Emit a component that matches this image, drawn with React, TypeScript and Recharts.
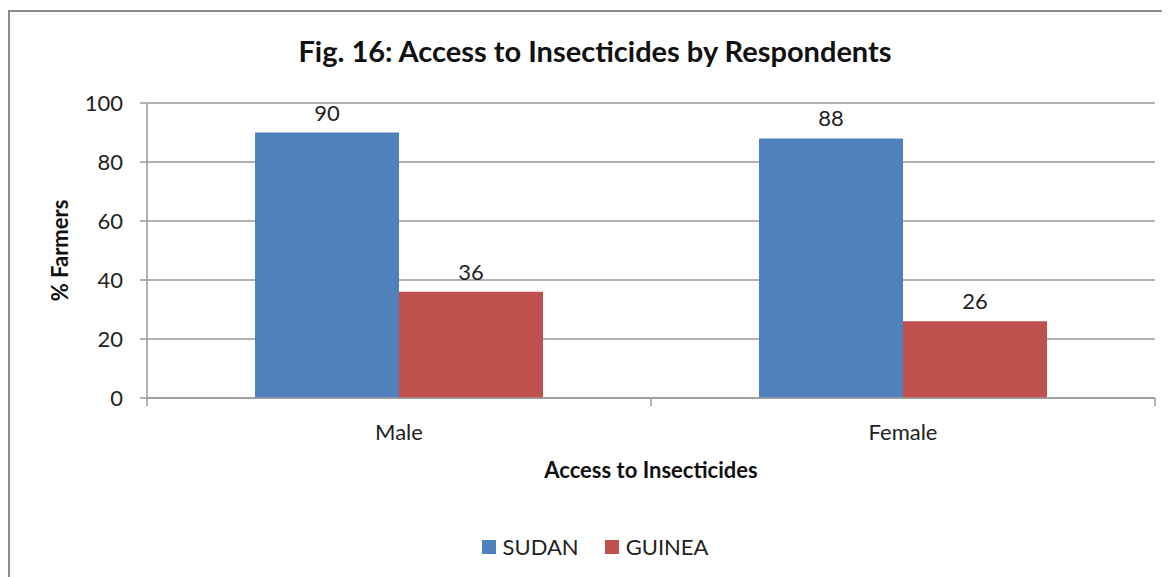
import { BarChart, Bar, XAxis, YAxis, CartesianGrid, LabelList } from 'recharts';

const categories = ['Male', 'Female'];
const sudan = [90, 88];
const guinea = [36, 26];
const yTicks = [0, 20, 40, 60, 80, 100];
const seriesNames = ['SUDAN', 'GUINEA'];
const seriesColors = ['#4F81BD', '#C0504D'];

const data = categories.map((name, i) => ({ name, SUDAN: sudan[i], GUINEA: guinea[i] }));

const FONT = 'Lato, "Open Sans", sans-serif';
const GRID = '#9a9a9a';
const TICK_SIZE = 6;
const TICK_MARGIN = 20;

// category label plus the little boundary ticks Excel draws between categories
function CategoryTick(props: any) {
    const { x, y, payload, index } = props;
    const half = 252;
    const axisY = y - TICK_SIZE - TICK_MARGIN;
    return (
        <g>
            <line x1={x - half} x2={x - half} y1={axisY} y2={axisY + 8} stroke={GRID} strokeWidth={1.5} />
            {index === categories.length - 1 && (
                <line x1={x + half} x2={x + half} y1={axisY} y2={axisY + 8} stroke={GRID} strokeWidth={1.5} />
            )}
            <text x={x} y={y} dy={16} textAnchor="middle" fontSize={22} fill="#222" fontFamily={FONT}>
                {payload.value}
            </text>
        </g>
    );
}

export default function App() {
    return (
        <div
            style={{
                position: 'relative',
                width: 1170,
                height: 577,
                marginTop: 2,
                border: '2px solid #8c8c8c',
                fontFamily: FONT,
                background: '#fff',
            }}
        >
            <div
                style={{
                    position: 'absolute',
                    top: 21,
                    left: 0,
                    width: 1170,
                    paddingRight: 14,
                    textAlign: 'center',
                    fontSize: 29,
                    fontWeight: 700,
                    color: '#111',
                }}
            >
                Fig. 16: Access to Insecticides by Respondents
            </div>
            <BarChart
                width={1160}
                height={565}
                data={data}
                margin={{ top: 91, right: 15, left: 60, bottom: 99 }}
                barGap={0}
            >
                <CartesianGrid vertical={false} stroke={GRID} strokeWidth={1.5} />
                <XAxis
                    dataKey="name"
                    height={80}
                    axisLine={{ stroke: GRID, strokeWidth: 1.5 }}
                    tickLine={false}
                    tickSize={TICK_SIZE}
                    tickMargin={TICK_MARGIN}
                    tick={<CategoryTick />}
                    label={{
                        value: 'Access to Insecticides',
                        position: 'insideBottom',
                        offset: 0,
                        style: { fontSize: 22, fontWeight: 700, fill: '#111', fontFamily: FONT },
                    }}
                />
                <YAxis
                    width={77}
                    domain={[0, 100]}
                    ticks={yTicks}
                    axisLine={{ stroke: GRID, strokeWidth: 1.5 }}
                    tickLine={{ stroke: GRID, strokeWidth: 1.5 }}
                    tickSize={7}
                    tickMargin={17}
                    tick={{ fontSize: 22, fill: '#222', fontFamily: FONT }}
                    label={{
                        value: '% Farmers',
                        angle: -90,
                        position: 'insideLeft',
                        offset: -10,
                        style: { fontSize: 22, fontWeight: 700, fill: '#111', fontFamily: FONT, textAnchor: 'middle' },
                    }}
                />
                {seriesNames.map((key, i) => (
                    <Bar key={key} dataKey={key} fill={seriesColors[i]} barSize={144} isAnimationActive={false}>
                        <LabelList dataKey={key} position="top" offset={12} style={{ fontSize: 22, fill: '#222', fontFamily: FONT }} />
                    </Bar>
                ))}
            </BarChart>
            <div
                style={{
                    position: 'absolute',
                    top: 521,
                    left: 0,
                    width: 1170,
                    paddingRight: 14,
                    display: 'flex',
                    justifyContent: 'center',
                    gap: 26,
                    fontSize: 22,
                    color: '#222',
                }}
            >
                {seriesNames.map((name, i) => (
                    <div key={name} style={{ display: 'flex', alignItems: 'center', gap: 7 }}>
                        <span style={{ width: 14, height: 14, background: seriesColors[i], display: 'inline-block' }} />
                        <span>{name}</span>
                    </div>
                ))}
            </div>
        </div>
    );
}
